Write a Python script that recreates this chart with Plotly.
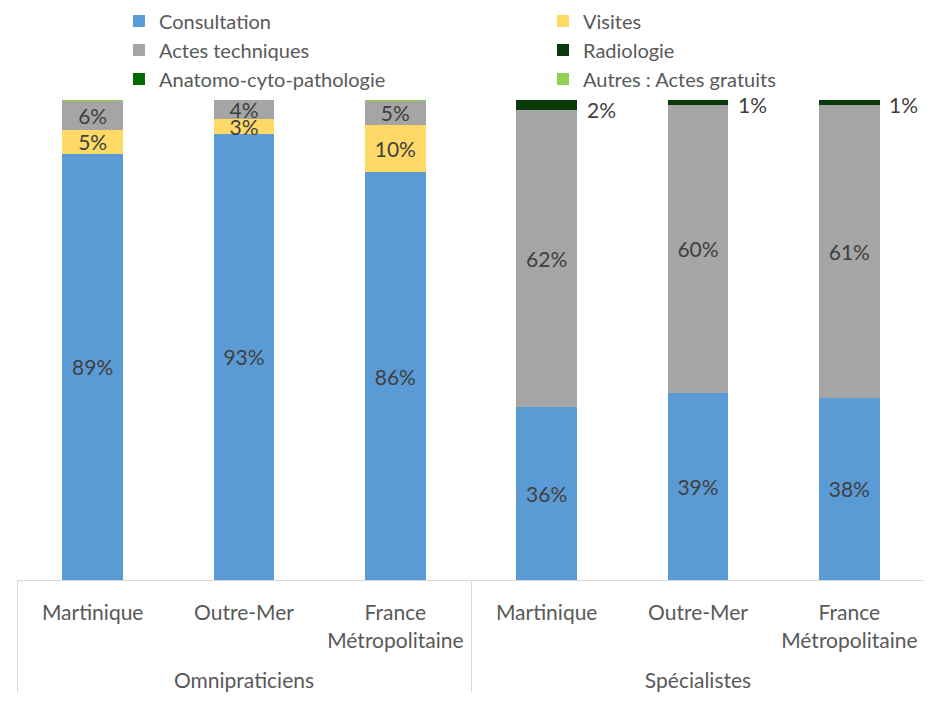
import plotly.graph_objects as go

groups = ["Omnipraticiens"] * 3 + ["Spécialistes"] * 3
zones = ["Martinique<br>&nbsp;", "Outre-Mer<br>&nbsp;", "France<br>Métropolitaine<br>&nbsp;"] * 2

consultation = [89, 93, 86, 36, 39, 38]
visites = [5, 3, 10, 0, 0, 0]
actes_techniques = [6, 4, 5, 62, 60, 61]
radiologie = [0, 0, 0, 2, 1, 1]
anatomo = [0, 0, 0, 0, 0, 0]
autres = [0.2, 0, 0.2, 0, 0, 0]

series = [
    ("Consultation", consultation, "#5B9BD5", "legend"),
    ("Visites", visites, "#FFD966", "legend2"),
    ("Actes techniques", actes_techniques, "#A5A5A5", "legend"),
    ("Radiologie", radiologie, "#0A3A0A", "legend2"),
    ("Anatomo-cyto-pathologie", anatomo, "#006A00", "legend"),
    ("Autres : Actes gratuits", autres, "#92D050", "legend2"),
]

FONT = "Lato, 'Open Sans', sans-serif"
FS = 21
fig = go.Figure()
for name, vals, color, lg in series:
    inside = name in ("Consultation", "Visites", "Actes techniques")
    text = [f"{v:.0f}%" if (inside and v >= 2.5) else "" for v in vals]
    fig.add_trace(go.Bar(
        name=name, x=[groups, zones], y=vals, legend=lg,
        marker=dict(color=color, line=dict(width=0)),
        text=text, textposition="inside", insidetextanchor="middle",
        textangle=0, textfont=dict(color="#404040", size=FS, family=FONT),
        hoverinfo="skip",
    ))

# outside labels for radiologie (spécialistes)
for i in range(6):
    if radiologie[i] > 0:
        total = consultation[i] + visites[i] + actes_techniques[i] + radiologie[i] + anatomo[i] + autres[i]
        yv = (total - radiologie[i]) / total * 100
        fig.add_annotation(x=i, y=yv, xref="x", yref="y", text=f"{radiologie[i]:.0f}%",
                           showarrow=False, xanchor="left", yanchor="middle", xshift=38,
                           font=dict(color="#404040", size=FS, family=FONT))

legfont = dict(size=20, color="#595959", family=FONT)
fig.update_layout(
    width=924, height=694,
    barmode="stack", barnorm="percent", bargap=0.6,
    plot_bgcolor="white", paper_bgcolor="white",
    margin=dict(l=9, r=7, t=92, b=122, autoexpand=False),
    font=dict(family=FONT, color="#595959", size=FS),
    uniformtext=dict(minsize=FS, mode="show"),
    legend=dict(orientation="v", x=0.1123, xanchor="left", y=1.2052, yanchor="top",
                traceorder="normal", font=legfont, bgcolor="rgba(0,0,0,0)"),
    legend2=dict(orientation="v", x=0.5793, xanchor="left", y=1.2052, yanchor="top",
                 traceorder="normal", font=legfont, bgcolor="rgba(0,0,0,0)"),
    showlegend=True,
)
fig.update_yaxes(range=[0, 100], visible=False)
fig.update_xaxes(showline=True, linecolor="#D9D9D9", linewidth=1,
                 dividercolor="#D9D9D9", dividerwidth=1, automargin=False,
                 ticklabelstandoff=14,
                 tickfont=dict(size=FS, color="#595959", family=FONT),
                 ticks="", showgrid=False)

fig.write_html("out.html")
